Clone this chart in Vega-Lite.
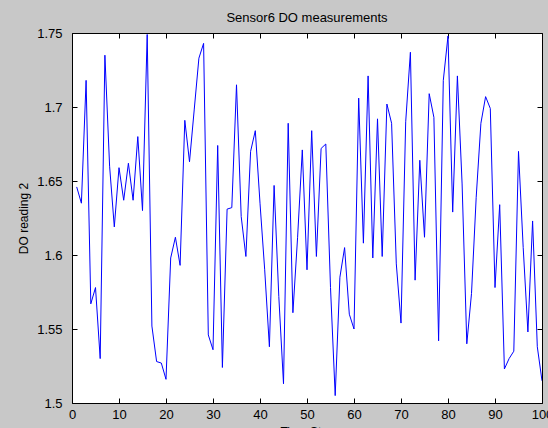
{
  "$schema": "https://vega.github.io/schema/vega-lite/v6.json",
  "width": 470,
  "height": 370,
  "autosize": {"type": "none"},
  "padding": {"left": 72, "top": 33, "right": 6, "bottom": 25},
  "background": "#c8c8c8",
  "title": {
    "text": "Sensor6 DO measurements",
    "font": "Liberation Sans",
    "fontSize": 13,
    "fontWeight": "normal",
    "color": "#000000",
    "frame": "group",
    "offset": 2
  },
  "data": {
    "values": [
      {"t": 1, "v": 1.646}, {"t": 2, "v": 1.635}, {"t": 3, "v": 1.718}, {"t": 4, "v": 1.567}, {"t": 5, "v": 1.578},
      {"t": 6, "v": 1.530}, {"t": 7, "v": 1.735}, {"t": 8, "v": 1.660}, {"t": 9, "v": 1.619}, {"t": 10, "v": 1.659},
      {"t": 11, "v": 1.637}, {"t": 12, "v": 1.662}, {"t": 13, "v": 1.637}, {"t": 14, "v": 1.680}, {"t": 15, "v": 1.630},
      {"t": 16, "v": 1.749}, {"t": 17, "v": 1.552}, {"t": 18, "v": 1.528}, {"t": 19, "v": 1.527}, {"t": 20, "v": 1.516},
      {"t": 21, "v": 1.598}, {"t": 22, "v": 1.612}, {"t": 23, "v": 1.593}, {"t": 24, "v": 1.691}, {"t": 25, "v": 1.663},
      {"t": 26, "v": 1.698}, {"t": 27, "v": 1.733}, {"t": 28, "v": 1.743}, {"t": 29, "v": 1.546}, {"t": 30, "v": 1.536},
      {"t": 31, "v": 1.674}, {"t": 32, "v": 1.524}, {"t": 33, "v": 1.631}, {"t": 34, "v": 1.632}, {"t": 35, "v": 1.715},
      {"t": 36, "v": 1.626}, {"t": 37, "v": 1.599}, {"t": 38, "v": 1.670}, {"t": 39, "v": 1.684}, {"t": 40, "v": 1.635},
      {"t": 41, "v": 1.590}, {"t": 42, "v": 1.538}, {"t": 43, "v": 1.647}, {"t": 44, "v": 1.572}, {"t": 45, "v": 1.513},
      {"t": 46, "v": 1.689}, {"t": 47, "v": 1.561}, {"t": 48, "v": 1.612}, {"t": 49, "v": 1.671}, {"t": 50, "v": 1.590},
      {"t": 51, "v": 1.684}, {"t": 52, "v": 1.599}, {"t": 53, "v": 1.672}, {"t": 54, "v": 1.675}, {"t": 55, "v": 1.578},
      {"t": 56, "v": 1.505}, {"t": 57, "v": 1.585}, {"t": 58, "v": 1.605}, {"t": 59, "v": 1.560}, {"t": 60, "v": 1.550},
      {"t": 61, "v": 1.706}, {"t": 62, "v": 1.608}, {"t": 63, "v": 1.721}, {"t": 64, "v": 1.598}, {"t": 65, "v": 1.692},
      {"t": 66, "v": 1.599}, {"t": 67, "v": 1.702}, {"t": 68, "v": 1.689}, {"t": 69, "v": 1.594}, {"t": 70, "v": 1.554},
      {"t": 71, "v": 1.690}, {"t": 72, "v": 1.737}, {"t": 73, "v": 1.583}, {"t": 74, "v": 1.664}, {"t": 75, "v": 1.612},
      {"t": 76, "v": 1.709}, {"t": 77, "v": 1.693}, {"t": 78, "v": 1.542}, {"t": 79, "v": 1.718}, {"t": 80, "v": 1.748},
      {"t": 81, "v": 1.629}, {"t": 82, "v": 1.721}, {"t": 83, "v": 1.648}, {"t": 84, "v": 1.540}, {"t": 85, "v": 1.574},
      {"t": 86, "v": 1.639}, {"t": 87, "v": 1.689}, {"t": 88, "v": 1.707}, {"t": 89, "v": 1.699}, {"t": 90, "v": 1.578},
      {"t": 91, "v": 1.634}, {"t": 92, "v": 1.523}, {"t": 93, "v": 1.530}, {"t": 94, "v": 1.535}, {"t": 95, "v": 1.670},
      {"t": 96, "v": 1.605}, {"t": 97, "v": 1.548}, {"t": 98, "v": 1.623}, {"t": 99, "v": 1.538}, {"t": 100, "v": 1.515}
    ]
  },
  "config": {
    "view": {"stroke": "#000000", "strokeWidth": 1, "fill": "#ffffff"},
    "axis": {
      "grid": false,
      "domain": false,
      "ticks": true,
      "tickColor": "#000000",
      "tickWidth": 1,
      "tickSize": -5,
      "labelFont": "Liberation Sans",
      "labelFontSize": 13,
      "labelColor": "#000000",
      "titleFont": "Liberation Sans",
      "titleFontSize": 12,
      "titleFontWeight": "normal",
      "titleColor": "#000000"
    }
  },
  "layer": [
    {
      "mark": {"type": "line", "color": "#0000ff", "strokeWidth": 1, "clip": true},
      "encoding": {
        "x": {
          "field": "t",
          "type": "quantitative",
          "scale": {"domain": [0, 100], "nice": false},
          "axis": {
            "orient": "bottom",
            "values": [0, 10, 20, 30, 40, 50, 60, 70, 80, 90, 100],
            "labelPadding": 10,
            "labelFlush": false,
            "title": "Time Step",
            "titlePadding": 5
          }
        },
        "y": {
          "field": "v",
          "type": "quantitative",
          "scale": {"domain": [1.5, 1.75], "nice": false, "zero": false},
          "axis": {
            "orient": "left",
            "values": [1.5, 1.55, 1.6, 1.65, 1.7, 1.75],
            "format": ".2~f",
            "labelPadding": 15,
            "labelFlush": false,
            "title": "DO reading 2",
            "titlePadding": 6
          }
        }
      }
    },
    {
      "mark": {"type": "line", "opacity": 0},
      "encoding": {
        "x": {
          "field": "t",
          "type": "quantitative",
          "axis": {
            "orient": "top",
            "values": [0, 10, 20, 30, 40, 50, 60, 70, 80, 90, 100],
            "labels": false,
            "title": null
          }
        },
        "y": {
          "field": "v",
          "type": "quantitative",
          "axis": {
            "orient": "right",
            "values": [1.5, 1.55, 1.6, 1.65, 1.7, 1.75],
            "labels": false,
            "title": null
          }
        }
      }
    }
  ],
  "resolve": {"axis": {"x": "independent", "y": "independent"}}
}
